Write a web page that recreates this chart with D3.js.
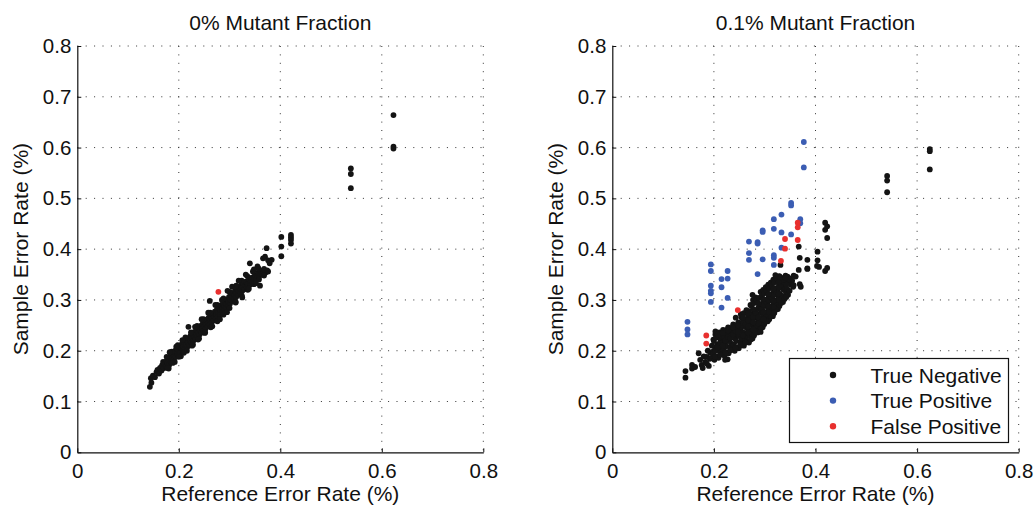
<!DOCTYPE html>
<html>
<head>
<meta charset="utf-8">
<script src="https://cdn.jsdelivr.net/npm/d3@7"></script>
<style>
  body { margin: 0; background: #fff; }
  svg text { font-family: "Liberation Sans", Arial, sans-serif; fill: #111; }
</style>
</head>
<body>
<div id="container"></div>
<script>
// values, [reference %, sample %]
const xTicks = [0, 0.2, 0.4, 0.6, 0.8]
const yTicks = [0, 0.1, 0.2, 0.3, 0.4, 0.5, 0.6, 0.7, 0.8]
const panelTitles = ["0% Mutant Fraction", "0.1% Mutant Fraction"]
const legendLabels = ["True Negative", "True Positive", "False Positive"]

// left panel: true negatives
const leftNeg = [
  [0.143,0.129],[0.146,0.137],[0.145,0.146],[0.149,0.151],[0.153,0.148],[0.156,0.158],[0.158,0.162],[0.161,0.155],
  [0.163,0.166],[0.166,0.161],[0.167,0.171],[0.169,0.178],[0.171,0.166],[0.172,0.174],[0.175,0.169],[0.176,0.180],
  [0.178,0.176],[0.179,0.186],[0.181,0.172],[0.182,0.181],[0.184,0.190],[0.185,0.178],[0.187,0.185],[0.188,0.195],
  [0.190,0.183],[0.191,0.191],[0.193,0.200],[0.194,0.188],[0.196,0.196],[0.197,0.204],[0.199,0.192],[0.200,0.200],
  [0.202,0.209],[0.203,0.197],[0.205,0.205],[0.206,0.213],[0.208,0.200],[0.209,0.208],[0.211,0.217],[0.212,0.204],
  [0.214,0.212],[0.215,0.221],[0.217,0.208],[0.218,0.216],[0.219,0.225],[0.221,0.212],[0.222,0.220],[0.223,0.229],
  [0.225,0.216],[0.226,0.224],[0.227,0.233],[0.229,0.220],[0.230,0.228],[0.231,0.237],[0.233,0.224],[0.234,0.232],
  [0.235,0.241],[0.237,0.228],[0.238,0.236],[0.239,0.245],[0.241,0.232],[0.242,0.240],[0.243,0.249],[0.245,0.236],
  [0.246,0.244],[0.247,0.253],[0.249,0.240],[0.250,0.248],[0.251,0.257],[0.253,0.244],[0.254,0.252],[0.255,0.261],
  [0.257,0.248],[0.258,0.256],[0.259,0.265],[0.261,0.252],[0.262,0.260],[0.263,0.269],[0.265,0.256],[0.266,0.264],
  [0.267,0.273],[0.269,0.260],[0.270,0.268],[0.271,0.277],[0.273,0.264],[0.274,0.272],[0.275,0.281],[0.277,0.268],
  [0.278,0.276],[0.279,0.285],[0.281,0.272],[0.282,0.280],[0.283,0.289],[0.285,0.276],[0.286,0.284],[0.287,0.293],
  [0.289,0.280],[0.290,0.288],[0.291,0.297],[0.293,0.284],[0.294,0.292],[0.295,0.301],[0.297,0.289],[0.298,0.297],
  [0.299,0.306],[0.301,0.293],[0.302,0.301],[0.303,0.310],[0.305,0.298],[0.306,0.306],[0.307,0.314],[0.309,0.302],
  [0.310,0.310],[0.311,0.318],[0.313,0.306],[0.314,0.314],[0.315,0.322],[0.317,0.310],[0.318,0.318],[0.319,0.326],
  [0.321,0.314],[0.322,0.322],[0.323,0.330],[0.325,0.318],[0.326,0.326],[0.327,0.333],[0.329,0.321],[0.330,0.329],
  [0.332,0.336],[0.334,0.325],[0.336,0.332],[0.338,0.340],[0.340,0.330],[0.342,0.337],[0.344,0.344],[0.346,0.335],
  [0.348,0.342],[0.350,0.349],[0.352,0.340],[0.354,0.347],[0.356,0.353],[0.358,0.345],[0.360,0.352],[0.362,0.357],
  [0.364,0.350],[0.366,0.356],[0.368,0.361],[0.371,0.354],[0.374,0.358],[0.376,0.356],
  [0.176,0.188],[0.186,0.198],[0.198,0.211],[0.213,0.226],[0.224,0.236],[0.236,0.249],[0.249,0.262],[0.262,0.275],
  [0.276,0.290],[0.288,0.303],[0.300,0.316],[0.313,0.328],[0.324,0.338],[0.335,0.347],[0.346,0.356],[0.357,0.362],
  [0.180,0.165],[0.192,0.178],[0.204,0.189],[0.216,0.200],[0.228,0.212],[0.240,0.224],[0.251,0.235],[0.263,0.246],
  [0.276,0.258],[0.288,0.271],[0.300,0.284],[0.312,0.296],[0.324,0.309],[0.336,0.320],[0.348,0.331],[0.358,0.340],
  [0.368,0.348],
  [0.219,0.247],[0.261,0.298],[0.340,0.372],[0.360,0.328],[0.366,0.382],[0.373,0.402],[0.370,0.385],[0.376,0.378],
  [0.383,0.379],[0.379,0.372],[0.355,0.366],[0.348,0.360],[0.332,0.350],[0.318,0.338],[0.305,0.326],[0.296,0.318],
  [0.285,0.300],[0.272,0.290],[0.258,0.275],[0.245,0.262],[0.232,0.247],[0.226,0.210],[0.238,0.222],[0.252,0.236],
  [0.266,0.248],[0.281,0.262],[0.295,0.276],[0.312,0.295],[0.325,0.305],[0.338,0.322],[0.352,0.333],[0.200,0.188],
  [0.210,0.196],[0.188,0.176],[0.178,0.166],[0.182,0.197],[0.195,0.208],[0.207,0.221],
  [0.402,0.424],[0.402,0.405],[0.402,0.386],[0.421,0.428],[0.421,0.423],[0.421,0.418],[0.421,0.411],
  [0.539,0.559],[0.539,0.548],[0.539,0.520],[0.623,0.664],[0.623,0.602],[0.623,0.598]
]
const leftFalsePos = [[0.278,0.316]]

// right panel
const rightNeg = [
  [0.144,0.160],[0.144,0.147],[0.157,0.172],[0.157,0.165],[0.163,0.168],[0.170,0.195],[0.173,0.182],[0.176,0.172],
  [0.178,0.166],[0.180,0.189],[0.183,0.178],[0.186,0.188],[0.188,0.200],[0.190,0.170],[0.192,0.184],[0.193,0.196],
  [0.195,0.186],[0.198,0.198],[0.196,0.210],[0.199,0.222],
  [0.201,0.182],[0.199,0.194],[0.202,0.207],[0.200,0.219],[0.203,0.232],
  [0.206,0.189],[0.204,0.201],[0.207,0.213],[0.205,0.226],[0.203,0.238],
  [0.209,0.186],[0.212,0.198],[0.210,0.210],[0.213,0.222],[0.211,0.236],
  [0.216,0.193],[0.214,0.205],[0.217,0.217],[0.215,0.229],[0.218,0.241],
  [0.221,0.190],[0.219,0.202],[0.222,0.214],[0.220,0.226],[0.223,0.240],
  [0.226,0.197],[0.224,0.209],[0.227,0.221],[0.225,0.233],[0.228,0.246],
  [0.229,0.195],[0.232,0.207],[0.230,0.219],[0.233,0.231],[0.231,0.245],
  [0.236,0.202],[0.234,0.214],[0.237,0.226],[0.235,0.238],[0.238,0.252],
  [0.241,0.200],[0.239,0.212],[0.242,0.224],[0.240,0.236],[0.243,0.250],
  [0.246,0.207],[0.244,0.219],[0.247,0.231],[0.245,0.243],[0.248,0.256],[0.243,0.265],
  [0.249,0.205],[0.252,0.217],[0.250,0.229],[0.253,0.241],[0.251,0.255],[0.254,0.266],
  [0.256,0.212],[0.254,0.224],[0.257,0.236],[0.255,0.248],[0.258,0.262],[0.253,0.272],
  [0.259,0.210],[0.262,0.222],[0.260,0.234],[0.263,0.246],[0.261,0.260],[0.259,0.274],
  [0.266,0.218],[0.264,0.230],[0.267,0.242],[0.265,0.254],[0.268,0.268],[0.264,0.280],
  [0.269,0.216],[0.272,0.228],[0.270,0.240],[0.273,0.252],[0.271,0.264],[0.269,0.278],[0.272,0.290],
  [0.276,0.224],[0.274,0.236],[0.277,0.248],[0.275,0.260],[0.278,0.274],[0.274,0.288],[0.277,0.300],
  [0.279,0.230],[0.282,0.242],[0.280,0.254],[0.283,0.266],[0.281,0.280],[0.279,0.294],[0.282,0.305],
  [0.286,0.236],[0.284,0.248],[0.287,0.260],[0.285,0.272],[0.288,0.286],[0.284,0.300],
  [0.289,0.240],[0.292,0.252],[0.290,0.264],[0.293,0.276],[0.291,0.290],[0.289,0.304],[0.292,0.316],
  [0.296,0.246],[0.294,0.258],[0.297,0.270],[0.295,0.282],[0.298,0.295],[0.294,0.308],[0.297,0.320],
  [0.299,0.252],[0.302,0.264],[0.300,0.276],[0.303,0.288],[0.301,0.300],[0.299,0.313],[0.302,0.325],
  [0.306,0.258],[0.304,0.270],[0.307,0.282],[0.305,0.294],[0.308,0.306],[0.304,0.318],[0.307,0.330],
  [0.309,0.262],[0.312,0.275],[0.310,0.287],[0.313,0.299],[0.311,0.311],[0.309,0.323],[0.312,0.334],
  [0.316,0.268],[0.314,0.280],[0.317,0.292],[0.315,0.304],[0.318,0.316],[0.314,0.328],[0.317,0.340],
  [0.319,0.275],[0.322,0.287],[0.320,0.299],[0.323,0.311],[0.321,0.323],[0.319,0.335],[0.322,0.345],
  [0.326,0.282],[0.324,0.294],[0.327,0.306],[0.325,0.318],[0.328,0.330],[0.324,0.342],
  [0.329,0.288],[0.332,0.300],[0.330,0.312],[0.333,0.324],[0.331,0.336],[0.329,0.347],
  [0.336,0.296],[0.334,0.308],[0.337,0.320],[0.335,0.332],[0.338,0.344],
  [0.339,0.302],[0.342,0.314],[0.340,0.326],[0.343,0.338],[0.341,0.348],
  [0.346,0.310],[0.344,0.322],[0.347,0.334],[0.345,0.346],
  [0.349,0.318],[0.352,0.330],[0.350,0.342],
  [0.356,0.326],[0.354,0.338],[0.357,0.348],
  [0.2025,0.200],[0.2075,0.207],[0.2125,0.215],[0.2175,0.211],[0.2225,0.220],[0.2275,0.227],[0.2325,0.225],
  [0.2375,0.232],[0.2425,0.240],[0.2475,0.237],[0.2525,0.247],[0.2575,0.255],[0.2625,0.252],[0.2675,0.260],
  [0.2725,0.270],[0.2775,0.266],[0.2825,0.275],[0.2875,0.283],[0.2925,0.281],[0.2975,0.290],[0.3025,0.297],
  [0.3075,0.300],[0.3125,0.305],[0.3175,0.310],[0.3225,0.316],[0.3275,0.324],[0.3325,0.330],[0.3375,0.335],
  [0.3425,0.331],[0.3475,0.340],
  [0.2025,0.188],[0.2125,0.192],[0.2225,0.196],[0.2325,0.201],[0.2425,0.206],[0.2525,0.211],[0.2625,0.216],
  [0.2725,0.222],[0.2825,0.236],[0.2925,0.244],[0.3025,0.258],[0.3125,0.268],[0.3225,0.281],[0.3325,0.294],
  [0.3425,0.306],
  [0.2075,0.232],[0.2175,0.235],[0.2275,0.240],[0.2375,0.246],[0.2475,0.250],[0.2575,0.266],[0.2675,0.274],
  [0.2775,0.282],[0.2875,0.294],[0.2975,0.302],[0.3075,0.312],[0.3175,0.322],[0.3275,0.336],[0.3375,0.340],
  [0.2575,0.230],[0.2675,0.236],[0.2775,0.242],[0.2875,0.254],[0.2975,0.262],[0.3075,0.276],[0.3175,0.286],
  [0.3275,0.300],[0.2675,0.248],[0.2775,0.256],[0.2875,0.266],[0.2975,0.276],[0.3075,0.288],[0.3175,0.298],
  [0.3275,0.312],
  [0.227,0.183],[0.222,0.182],[0.292,0.237],[0.318,0.274],[0.276,0.310],[0.186,0.175],
  [0.367,0.405],[0.404,0.395],[0.384,0.379],[0.404,0.378],[0.331,0.369],[0.367,0.359],[0.384,0.362],[0.407,0.365],
  [0.403,0.367],[0.361,0.346],[0.341,0.343],[0.328,0.346],[0.321,0.349],[0.371,0.326],[0.357,0.329],[0.369,0.383],
  [0.369,0.331],[0.384,0.361],
  [0.419,0.452],[0.419,0.438],[0.423,0.445],[0.423,0.422],[0.419,0.357],[0.423,0.363],
  [0.541,0.544],[0.541,0.535],[0.541,0.512],[0.625,0.597],[0.625,0.593],[0.625,0.557]
]
const rightTruePos = [
  [0.377,0.611],[0.377,0.561],[0.352,0.491],[0.352,0.486],[0.333,0.468],[0.318,0.459],[0.296,0.437],[0.296,0.434],
  [0.318,0.440],[0.333,0.433],[0.352,0.429],[0.370,0.459],[0.370,0.451],[0.269,0.415],[0.286,0.414],[0.286,0.411],
  [0.269,0.392],[0.269,0.379],[0.296,0.380],[0.318,0.388],[0.318,0.383],[0.318,0.369],[0.333,0.403],[0.286,0.351],
  [0.194,0.370],[0.194,0.357],[0.194,0.328],[0.194,0.318],[0.194,0.313],[0.194,0.296],[0.215,0.341],[0.215,0.325],
  [0.227,0.357],[0.227,0.342],[0.227,0.304],[0.215,0.285],[0.148,0.257],[0.148,0.242],[0.148,0.232]
]
const rightFalsePos = [
  [0.365,0.452],[0.365,0.443],[0.340,0.420],[0.340,0.401],[0.365,0.418],[0.332,0.377],[0.247,0.280],[0.185,0.230],
  [0.185,0.214]
]

const colors = { neg: "#141414", pos: "#3b5db3", fp: "#e8302e" }
const width = 1034, height = 505
const plotTop = 46, plotBottom = 452.3
const panels = [
  { left: 77.3, right: 483.3, title: panelTitles[0], series: [[leftNeg, colors.neg], [leftFalsePos, colors.fp]], legend: false },
  { left: 612.3, right: 1018.7, title: panelTitles[1], series: [[rightNeg, colors.neg], [rightTruePos, colors.pos], [rightFalsePos, colors.fp]], legend: true }
]

let svg = d3.select("#container").append("svg")
  .attr("width", width)
  .attr("height", height)

panels.forEach(p => {
  let x = d3.scaleLinear().domain([0, 0.8]).range([p.left, p.right])
  let y = d3.scaleLinear().domain([0, 0.8]).range([plotBottom, plotTop])
  let g = svg.append("g")

  // dotted grid
  g.selectAll(".gx").data(xTicks.slice(1)).enter().append("line")
    .attr("x1", d => x(d)).attr("x2", d => x(d))
    .attr("y1", plotTop).attr("y2", plotBottom)
    .attr("stroke", "#333").attr("stroke-width", 1).attr("stroke-dasharray", "1,7.4")
  g.selectAll(".gy").data(yTicks.slice(1)).enter().append("line")
    .attr("x1", p.left).attr("x2", p.right)
    .attr("y1", d => y(d)).attr("y2", d => y(d))
    .attr("stroke", "#333").attr("stroke-width", 1).attr("stroke-dasharray", "1,7.4")

  // axes, ticks pointing inward like matlab
  let ax = g.append("g")
    .attr("transform", `translate(0,${plotBottom})`)
    .call(d3.axisBottom(x).tickValues(xTicks).tickFormat(d3.format("")).tickSizeInner(-4).tickSizeOuter(0).tickPadding(11))
  let ay = g.append("g")
    .attr("transform", `translate(${p.left},0)`)
    .call(d3.axisLeft(y).tickValues(yTicks).tickFormat(d3.format("")).tickSizeInner(-4).tickSizeOuter(0).tickPadding(6))
  ;[ax, ay].forEach(a => {
    a.select(".domain").attr("stroke", "#111").attr("stroke-width", 1.2)
    a.selectAll(".tick line").attr("stroke", "#111")
    a.selectAll(".tick text").style("font-size", "20.5px").attr("fill", "#111")
  })

  // points
  p.series.forEach(([pts, col]) => {
    g.append("g").selectAll("circle").data(pts).enter().append("circle")
      .attr("cx", d => x(d[0]))
      .attr("cy", d => y(d[1]))
      .attr("r", 2.9)
      .attr("fill", col)
  })

  g.append("text")
    .attr("x", (p.left + p.right) / 2).attr("y", 30)
    .attr("text-anchor", "middle")
    .style("font-size", "21px")
    .text(p.title)
  g.append("text")
    .attr("x", (p.left + p.right) / 2).attr("y", 501)
    .attr("text-anchor", "middle")
    .style("font-size", "21px")
    .text("Reference Error Rate (%)")
  g.append("text")
    .attr("transform", `translate(${p.left - 49.5},${(plotTop + plotBottom) / 2}) rotate(-90)`)
    .attr("text-anchor", "middle")
    .style("font-size", "21px")
    .text("Sample Error Rate (%)")

  if (p.legend) {
    let lg = g.append("g")
    lg.append("rect")
      .attr("x", 789.5).attr("y", 358.5).attr("width", 219).attr("height", 84)
      .attr("fill", "#fff").attr("stroke", "#111").attr("stroke-width", 1.2)
    let legendColors = [colors.neg, colors.pos, colors.fp]
    legendLabels.forEach((lab, i) => {
      let cy = 375 + i * 25.6
      lg.append("circle").attr("cx", 833).attr("cy", cy).attr("r", 3.2).attr("fill", legendColors[i])
      lg.append("text").attr("x", 870.5).attr("y", cy + 7.5).style("font-size", "21px").text(lab)
    })
  }
})
</script>
</body>
</html>
